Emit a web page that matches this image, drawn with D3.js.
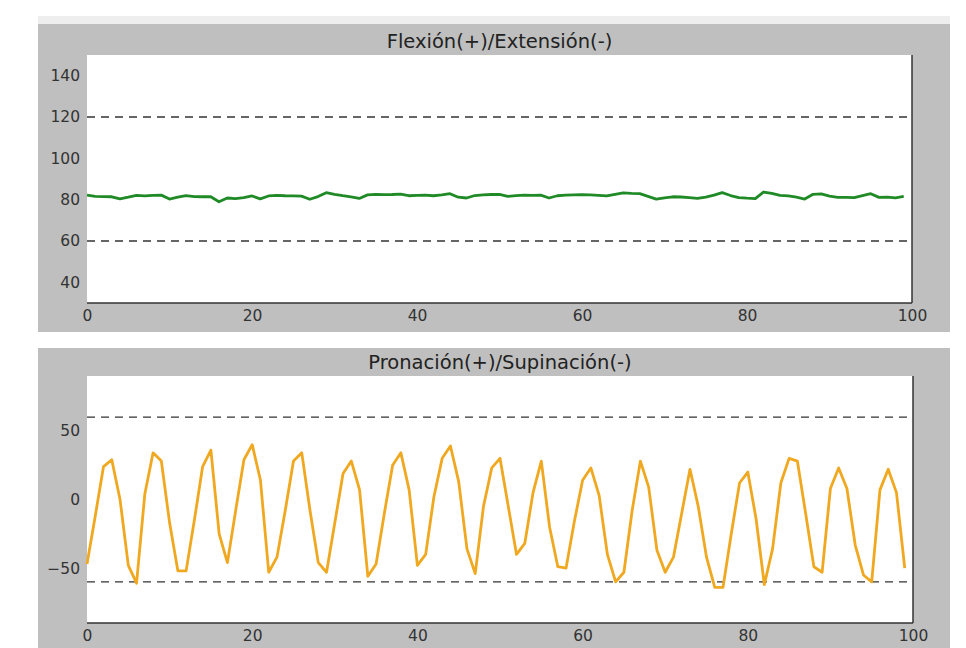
<!DOCTYPE html>
<html>
<head>
<meta charset="utf-8">
<script src="https://cdn.jsdelivr.net/npm/d3@7"></script>
<style>
  body { margin: 0; background: #fff; }
  svg { display: block; font-family: "DejaVu Sans", sans-serif; }
</style>
</head>
<body>
<svg id="chart" width="966" height="648"></svg>
<script>
// tick labels
const xTicks = [0, 20, 40, 60, 80, 100];
const flexTicks = [40, 60, 80, 100, 120, 140];
const pronoTicks = [-50, 0, 50];

// limits drawn as dashed lines
const flexLimits = [60, 120];
const pronoLimits = [-60, 60];

// series values, one per sample 0..99
const flexValues = [
    82.2, 81.6, 81.5, 81.4, 80.4, 81.2, 82.1, 81.8, 82.1, 82.2,
    80.3, 81.2, 82.0, 81.5, 81.4, 81.4, 79.0, 80.8, 80.5, 81.0,
    81.8, 80.4, 81.8, 82.1, 81.9, 81.8, 81.7, 80.2, 81.5, 83.4,
    82.6, 81.9, 81.3, 80.6, 82.3, 82.6, 82.4, 82.5, 82.7, 81.9,
    82.1, 82.2, 81.9, 82.3, 82.9, 81.2, 80.8, 82.0, 82.3, 82.5,
    82.6, 81.6, 82.0, 82.2, 82.1, 82.2, 80.8, 81.9, 82.2, 82.3,
    82.4, 82.3, 82.1, 81.8, 82.6, 83.3, 83.0, 82.9, 81.6, 80.3,
    80.9, 81.4, 81.3, 81.0, 80.6, 81.2, 82.2, 83.4, 82.0, 81.0,
    80.7, 80.5, 83.7, 83.0, 82.1, 81.8, 81.2, 80.3, 82.6, 82.8,
    81.7, 81.1, 81.1, 81.0, 82.0, 82.9, 81.1, 81.2, 80.9, 81.6
];
const pronoValues = [
    -47, -12, 24, 29, 0, -48, -61, 4, 34, 28,
    -17, -52, -52, -15, 24, 36, -25, -46, -8, 29,
    40, 14, -53, -42, -8, 28, 34, -8, -46, -53,
    -17, 19, 28, 7, -56, -47, -10, 25, 34, 7,
    -48, -40, 2, 30, 39, 13, -36, -54, -5, 23,
    30, -5, -40, -32, 5, 28, -20, -49, -50, -16,
    14, 23, 3, -40, -60, -53, -8, 28, 9, -37,
    -53, -42, -10, 22, -5, -42, -64, -64, -25, 12,
    20, -14, -62, -36, 12, 30, 28, -10, -49, -53,
    8, 23, 8, -33, -55, -60, 7, 22, 5, -50
];

const svg = d3.select('#chart');

// thin light strip above the first figure
svg.append('rect')
    .attr('x', 38).attr('y', 16)
    .attr('width', 912).attr('height', 8)
    .attr('fill', '#eeeeee');

function drawPanel(opts) {
    const g = svg.append('g');
    const { box, plot } = opts;

    g.append('rect')
        .attr('x', box.x).attr('y', box.y)
        .attr('width', box.w).attr('height', box.h)
        .attr('fill', '#bfbfbf');

    const x = d3.scaleLinear().domain([0, 100]).range([plot.x0, plot.x1]);
    const y = d3.scaleLinear().domain(opts.yDomain).range([plot.y1, plot.y0]);

    g.append('rect')
        .attr('x', plot.x0).attr('y', plot.y0)
        .attr('width', plot.x1 - plot.x0).attr('height', plot.y1 - plot.y0)
        .attr('fill', '#ffffff');

    // dashed limit lines
    g.selectAll('.limit')
        .data(opts.limits)
        .enter()
        .append('line')
        .attr('class', 'limit')
        .attr('x1', plot.x0).attr('x2', plot.x1)
        .attr('y1', d => y(d)).attr('y2', d => y(d))
        .attr('stroke', '#333')
        .attr('stroke-width', 1.4)
        .attr('stroke-dasharray', '8,6');

    const line = d3.line()
        .x((d, i) => x(i))
        .y(d => y(d));

    g.append('path')
        .datum(opts.values)
        .attr('d', line)
        .attr('fill', 'none')
        .attr('stroke', opts.colour)
        .attr('stroke-width', 2.8)
        .attr('stroke-linejoin', 'round');

    // spines: bottom and right only
    g.append('line')
        .attr('x1', plot.x0).attr('x2', plot.x1)
        .attr('y1', plot.y1).attr('y2', plot.y1)
        .attr('stroke', '#333').attr('stroke-width', 1.5);
    g.append('line')
        .attr('x1', plot.x1).attr('x2', plot.x1)
        .attr('y1', plot.y0).attr('y2', plot.y1)
        .attr('stroke', '#333').attr('stroke-width', 1.5);

    const xAxis = g.append('g')
        .attr('transform', `translate(0,${plot.y1})`)
        .call(d3.axisBottom(x).tickValues(xTicks).tickSize(0).tickPadding(7));
    const yAxis = g.append('g')
        .attr('transform', `translate(${plot.x0},0)`)
        .call(d3.axisLeft(y).tickValues(opts.yTicks).tickSize(0).tickPadding(7)
            .tickFormat(d => (d < 0 ? '\u2212' + Math.abs(d) : d)));

    [xAxis, yAxis].forEach((ax) => {
        ax.select('.domain').remove();
        ax.selectAll('text')
            .attr('font-family', '"DejaVu Sans", sans-serif')
            .attr('font-size', 15.5)
            .attr('fill', '#333');
    });

    g.append('text')
        .attr('x', (plot.x0 + plot.x1) / 2)
        .attr('y', plot.y0 - 7)
        .attr('text-anchor', 'middle')
        .attr('font-size', 19.5)
        .attr('fill', '#222')
        .text(opts.title);
}

drawPanel({
    box: { x: 38, y: 24, w: 912, h: 308 },
    plot: { x0: 87, x1: 912, y0: 55, y1: 303 },
    yDomain: [30, 150],
    yTicks: flexTicks,
    limits: flexLimits,
    values: flexValues,
    colour: '#1f8a26',
    title: 'Flexión(+)/Extensión(-)'
});

drawPanel({
    box: { x: 38, y: 348, w: 912, h: 300 },
    plot: { x0: 87, x1: 913, y0: 376, y1: 623 },
    yDomain: [-90, 90],
    yTicks: pronoTicks,
    limits: pronoLimits,
    values: pronoValues,
    colour: '#f0a820',
    title: 'Pronación(+)/Supinación(-)'
});
</script>
</body>
</html>
